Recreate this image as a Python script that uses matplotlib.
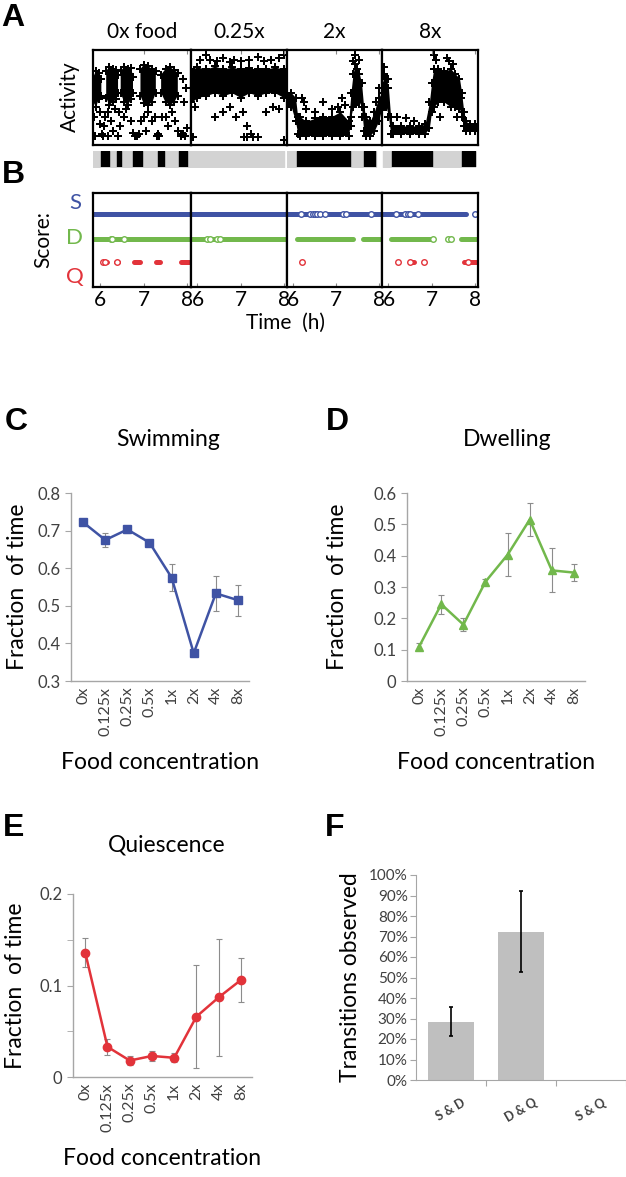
import numpy as np
import matplotlib
matplotlib.use('Agg')
import matplotlib.pyplot as plt

plt.rcParams['font.family'] = ['Lato', 'DejaVu Sans']

nan = np.nan

# ---------------- data ----------------
# A: activity traces, 6-8 h, one list set per food level (envelope of the dense cloud + loose points)
panel_names = ['0x food', '0.25x', '2x', '8x']

act_t = [
    [5.86, 5.92, 5.98, 6.04, 6.09, 6.15, 6.22, 6.30, 6.38, 6.42, 6.45, 6.48, 6.56, 6.64, 6.72, 6.76, 6.85,
     6.93, 7.00, 7.10, 7.20, 7.28, 7.34, 7.40, 7.50, 7.60, 7.70, 7.78],
    [5.86, 6.0, 6.2, 6.4, 6.6, 6.8, 7.0, 7.2, 7.4, 7.6, 7.8, 8.0, 8.08],
    [5.86, 5.95, 6.05, 6.10, 6.15, 6.30, 6.50, 6.70, 6.90, 7.10, 7.30, 7.35, 7.40, 7.45, 7.50, 7.55, 7.60,
     7.65, 7.70, 7.80, 7.90, 8.00, 8.08],
    [5.86, 5.90, 5.95, 6.00, 6.05, 6.10, 6.30, 6.50, 6.70, 6.85, 6.95, 7.00, 7.05, 7.15, 7.30, 7.45, 7.55,
     7.65, 7.70, 7.75, 7.80, 7.90, 8.00, 8.08],
]
act_hi = [
    [0.72, 0.78, 0.76, 0.70, nan, 0.78, 0.82, 0.80, 0.79, 0.74, nan, 0.78, 0.82, 0.80, 0.81, 0.72, nan,
     0.80, 0.84, 0.83, 0.80, 0.78, nan, 0.74, 0.80, 0.82, 0.79, 0.76],
    [0.80, 0.82, 0.80, 0.83, 0.80, 0.82, 0.80, 0.81, 0.80, 0.80, 0.82, 0.80, 0.78],
    [0.55, 0.55, 0.50, 0.30, 0.30, 0.25, 0.28, 0.30, 0.30, 0.35, 0.25, 0.55, 0.75, 0.85, 0.80, 0.75, 0.65,
     0.40, 0.30, 0.25, 0.35, 0.50, 0.55],
    [0.65, 0.75, 0.70, 0.60, 0.30, 0.20, 0.20, 0.20, 0.20, 0.22, 0.45, 0.65, 0.80, 0.80, 0.78, 0.80, 0.75,
     0.70, 0.55, 0.35, 0.25, 0.22, 0.22, 0.22],
]
act_lo = [
    [0.45, 0.40, 0.48, 0.52, nan, 0.50, 0.42, 0.45, 0.48, 0.55, nan, 0.55, 0.45, 0.42, 0.48, 0.55, nan,
     0.52, 0.44, 0.42, 0.45, 0.55, nan, 0.55, 0.45, 0.42, 0.45, 0.52],
    [0.45, 0.50, 0.52, 0.55, 0.52, 0.55, 0.50, 0.55, 0.52, 0.55, 0.55, 0.50, 0.52],
    [0.42, 0.40, 0.25, 0.12, 0.10, 0.10, 0.10, 0.10, 0.10, 0.10, 0.10, 0.30, 0.40, 0.45, 0.45, 0.45, 0.40,
     0.15, 0.10, 0.10, 0.15, 0.25, 0.40],
    [0.45, 0.40, 0.40, 0.30, 0.12, 0.12, 0.12, 0.12, 0.12, 0.12, 0.18, 0.35, 0.40, 0.45, 0.45, 0.40, 0.40,
     0.38, 0.30, 0.20, 0.15, 0.15, 0.15, 0.15],
]
pts_t = [
    [5.88, 5.90, 6.00, 6.02, 6.05, 6.08, 6.10, 6.12, 6.18, 6.20, 6.25, 6.30, 6.35, 6.42, 6.44, 6.47, 6.55,
     6.60, 6.72, 6.75, 6.80, 6.85, 6.90, 6.95, 7.00, 7.05, 7.10, 7.20, 7.25, 7.30, 7.33, 7.36, 7.42, 7.50,
     7.55, 7.65, 7.72, 7.78, 7.85, 7.90, 7.95, 7.98, 7.92, 7.96, 7.90],
    [5.90, 5.95, 6.05, 6.20, 6.30, 6.45, 6.60, 6.75, 6.85, 7.00, 7.20, 7.40, 7.55, 7.70, 7.90, 8.00, 6.40,
     6.60, 6.75, 6.90, 7.05, 7.15, 7.08, 7.15, 7.25, 7.30, 7.40, 7.60, 7.75, 7.90, 8.02],
    [6.20, 6.25, 6.30, 6.50, 6.70, 6.90, 7.05, 7.15, 7.20, 7.45, 7.40, 7.55, 7.35, 7.62, 8.00, 7.95],
    [5.90, 6.00, 6.20, 6.40, 6.60, 7.05, 7.10, 7.35, 7.40, 7.50, 7.20, 7.60, 7.68],
]
pts_a = [
    [0.30, 0.10, 0.35, 0.22, 0.12, 0.10, 0.20, 0.30, 0.35, 0.10, 0.25, 0.15, 0.38, 0.10, 0.35, 0.20, 0.30,
     0.38, 0.25, 0.13, 0.10, 0.10, 0.12, 0.25, 0.30, 0.15, 0.35, 0.25, 0.30, 0.10, 0.12, 0.10, 0.30, 0.30,
     0.20, 0.35, 0.25, 0.15, 0.10, 0.12, 0.10, 0.18, 0.45, 0.60, 0.70],
    [0.08, 0.40, 0.90, 0.95, 0.90, 0.88, 0.92, 0.87, 0.90, 0.88, 0.90, 0.93, 0.88, 0.90, 0.92, 0.95, 0.30,
     0.35, 0.40, 0.30, 0.35, 0.20, 0.08, 0.08, 0.12, 0.08, 0.08, 0.35, 0.40, 0.38, 0.05],
    [0.50, 0.45, 0.38, 0.35, 0.45, 0.38, 0.40, 0.50, 0.42, 0.95, 0.88, 0.90, 0.20, 0.30, 0.60, 0.45],
    [0.82, 0.70, 0.30, 0.28, 0.25, 0.95, 0.90, 0.92, 0.88, 0.85, 0.30, 0.30, 0.50],
]
# grey/black bar under A: recording span and quiescent bouts
bar_span = [(5.85, 8.08), (5.87, 8.00), (5.86, 7.95), (5.87, 8.02)]
quiet_bouts = [
    [(6.03, 6.22), (6.39, 6.49), (6.76, 6.96), (7.33, 7.47), (7.80, 7.99)],
    [],
    [(6.08, 7.33), (7.65, 7.92)],
    [(6.08, 7.01), (7.70, 8.01)],
]

# B: state scoring (segments and isolated calls)
s_seg = [[(5.85, 8.08)], [(5.85, 8.08)], [(5.85, 8.08)], [(5.85, 7.81)]]
s_open = [[], [], [6.19, 6.39, 6.45, 6.50, 6.56, 6.62, 6.74, 7.17, 7.23, 7.82],
          [6.18, 6.38, 6.45, 6.49, 6.69, 8.00]]
d_seg = [[(5.85, 8.08)], [(5.85, 8.08)], [(6.08, 7.40), (7.64, 8.08)], [(6.07, 7.03), (7.69, 8.08)]]
d_open = [[6.25, 6.29, 6.55], [6.23, 6.28, 6.45, 6.52], [], [7.03, 7.38, 7.46]]
q_seg = [[(6.08, 6.17), (6.37, 6.42), (6.78, 6.91), (7.29, 7.38), (7.86, 8.04)], [], [],
         [(6.52, 6.60), (7.76, 8.08)]]
q_open = [[6.07, 6.13, 6.39], [], [6.20], [6.22, 6.50, 6.82, 7.85]]

# C-E: fraction of time vs food
food = ['0x', '0.125x', '0.25x', '0.5x', '1x', '2x', '4x', '8x']
swim = [0.722, 0.675, 0.703, 0.668, 0.575, 0.374, 0.533, 0.515]
swim_err = [0.006, 0.018, 0.010, 0.008, 0.035, 0.006, 0.046, 0.041]
dwell = [0.110, 0.245, 0.180, 0.317, 0.403, 0.515, 0.353, 0.346]
dwell_err = [0.010, 0.030, 0.020, 0.010, 0.068, 0.053, 0.070, 0.028]
quies = [0.136, 0.033, 0.018, 0.023, 0.021, 0.066, 0.087, 0.106]
quies_err = [0.016, 0.009, 0.005, 0.005, 0.005, 0.056, 0.064, 0.024]

# F: transitions
trans = ['S & D', 'D & Q', 'S & Q']
trans_val = [0.284, 0.723, 0.0]
trans_err = [0.070, 0.197, 0.0]

# ---------------- figure ----------------
W, H = 626, 1177
fig = plt.figure(figsize=(W / 100, H / 100), dpi=100)


def box(x0, y0, x1, y1):
    return fig.add_axes([x0 / W, 1 - y1 / H, (x1 - x0) / W, (y1 - y0) / H])


BLUE = '#3f53a4'
GREEN = '#72b84c'
RED = '#e2333a'
XL = (5.85, 8.08)
edges = [93, 191, 287, 382, 478]

for i in range(4):
    x0, x1 = edges[i], edges[i + 1]
    # activity
    ax = box(x0, 50, x1, 145)
    t = np.array(act_t[i])
    lo = np.array(act_lo[i])
    hi = np.array(act_hi[i])
    ok = ~np.isnan(lo)
    ax.fill_between(t, np.where(ok, lo, 0), np.where(ok, hi, 0), where=ok, color='black', lw=0)
    ax.scatter(t[ok], lo[ok], marker='P', s=34, color='black', lw=0)
    ax.scatter(t[ok], hi[ok], marker='P', s=34, color='black', lw=0)
    ax.scatter(pts_t[i], pts_a[i], marker='P', s=34, color='black', lw=0)
    ax.set_xlim(*XL)
    ax.set_ylim(0, 1)
    ax.set_xticks([7, 8])
    ax.tick_params(axis='x', top=True, bottom=False, labelbottom=False, direction='in', length=3,
                   color='#888888')
    ax.set_yticks([])
    for sp in ax.spines.values():
        sp.set_linewidth(1.6)
    ax.set_title(panel_names[i], fontsize=15, pad=9)

    # state bar
    bx = box(x0, 151, x1, 167)
    s0, s1 = bar_span[i]
    bx.broken_barh([(s0, s1 - s0)], (0, 1), color='#d3d3d3')
    bx.broken_barh([(a, b - a) for a, b in quiet_bouts[i]], (0, 1), color='black')
    bx.set_xlim(*XL)
    bx.set_ylim(0, 1)
    bx.axis('off')

    # scoring
    bx2 = box(x0, 193, x1, 287)
    for segs, opens, yv, c in [(s_seg[i], s_open[i], 3.1, BLUE), (d_seg[i], d_open[i], 2.05, GREEN),
                               (q_seg[i], q_open[i], 1.05, RED)]:
        for a, b in segs:
            bx2.plot([a, b], [yv, yv], color=c, lw=3.6, solid_capstyle='round')
        bx2.plot(opens, [yv] * len(opens), 'o', ms=4, mfc='white', mec=c, mew=1.0)
    bx2.set_xlim(*XL)
    bx2.set_ylim(0, 4)
    bx2.set_yticks([])
    bx2.set_xticks([6, 7, 8])
    bx2.tick_params(axis='x', direction='in', length=3, labelsize=15, pad=2, color='#888888')
    for sp in bx2.spines.values():
        sp.set_linewidth(1.6)

fig.text(70 / W, 1 - 97 / H, 'Activity', rotation=90, fontsize=15, ha='center', va='center')
fig.text(43 / W, 1 - 240 / H, 'Score:', rotation=90, fontsize=15, ha='center', va='center')
fig.text(75 / W, 1 - 203 / H, 'S', color=BLUE, fontsize=16, ha='center', va='center')
fig.text(75 / W, 1 - 238 / H, 'D', color=GREEN, fontsize=16, ha='center', va='center')
fig.text(75 / W, 1 - 277 / H, 'Q', color=RED, fontsize=16, ha='center', va='center')
fig.text(285 / W, 1 - 323 / H, 'Time  (h)', fontsize=15, ha='center', va='center')

# panel letters
for lab, x, y in [('A', 13, 18), ('B', 13, 175), ('C', 16, 422), ('D', 337, 422), ('E', 14, 828),
                  ('F', 335, 828)]:
    fig.text(x / W, 1 - y / H, lab, fontsize=23, fontweight='bold', family='Liberation Sans',
             ha='center', va='center')

GRAYAX = '#a6a6a6'
TICKC = '#404040'


def line_panel(ax, vals, errs, color, marker, ylim, yticks, ylabels, title, tx, ty, ylab_x, minor=None):
    x = np.arange(len(food))
    ax.errorbar(x, vals, yerr=errs, fmt='none', ecolor='#8c8c8c', elinewidth=0.8, capsize=2, capthick=0.8)
    ax.plot(x, vals, color=color, lw=1.8, marker=marker, ms=6, mec=color, mfc=color)
    ax.set_xlim(-0.55, 7.5)
    ax.set_ylim(*ylim)
    ax.set_yticks(yticks)
    ax.set_yticklabels(ylabels)
    if minor is not None:
        ax.set_yticks(minor, minor=True)
        ax.tick_params(axis='y', which='minor', length=4, color=GRAYAX)
    ax.set_xticks(x)
    ax.set_xticklabels(food, rotation=90)
    ax.tick_params(axis='x', length=0, labelsize=11.5, labelcolor=TICKC, pad=4)
    ax.tick_params(axis='y', length=4, color=GRAYAX, labelsize=12, labelcolor=TICKC)
    for s in ['top', 'right']:
        ax.spines[s].set_visible(False)
    for s in ['left', 'bottom']:
        ax.spines[s].set_color(GRAYAX)
        ax.spines[s].set_linewidth(1.0)
    ax.set_xlabel('Food concentration', fontsize=16.5, labelpad=12)
    fig.text(tx / W, 1 - ty / H, title, fontsize=16.5, ha='center', va='center')
    fig.text(ylab_x / W, 1 - ((ax.get_position().y0 + ax.get_position().y1) / 2 * -H + H) / H,
             'Fraction  of time', rotation=90, fontsize=16.5, ha='center', va='center')


axC = box(71, 493, 249, 681)
line_panel(axC, swim, swim_err, BLUE, 's', (0.3, 0.8), [0.3, 0.4, 0.5, 0.6, 0.7, 0.8],
           ['0.3', '0.4', '0.5', '0.6', '0.7', '0.8'], 'Swimming', 168, 440, 18)

axD = box(407, 493, 585, 681)
line_panel(axD, dwell, dwell_err, GREEN, '^', (0, 0.6), [0, 0.1, 0.2, 0.3, 0.4, 0.5, 0.6],
           ['0', '0.1', '0.2', '0.3', '0.4', '0.5', '0.6'], 'Dwelling', 507, 440, 338)

axE = box(73, 894, 252, 1077)
line_panel(axE, quies, quies_err, RED, 'o', (0, 0.2), [0, 0.1, 0.2], ['0', '0.1', '0.2'], 'Quiescence',
           167, 845, 16, minor=[0.05, 0.15])

# F
axF = box(416, 875, 626, 1080)
xf = np.arange(len(trans))
axF.bar(xf, trans_val, width=0.66, color='#bfbfbf')
axF.errorbar(xf[:2], trans_val[:2], yerr=trans_err[:2], fmt='none', ecolor='black', elinewidth=1.2,
             capsize=1.5, capthick=1.2)
axF.set_xlim(-0.5, 2.5)
axF.set_ylim(0, 1.0)
axF.set_yticks(np.arange(0, 1.01, 0.1))
axF.set_yticklabels(['%d%%' % v for v in range(0, 101, 10)])
axF.set_xticks([0.5, 1.5, 2.5])
axF.set_xticklabels([])
axF.tick_params(axis='x', length=4, color=GRAYAX)
axF.tick_params(axis='y', length=4, color=GRAYAX, labelsize=11, labelcolor=TICKC, pad=2)
for s in ['top', 'right']:
    axF.spines[s].set_visible(False)
for s in ['left', 'bottom']:
    axF.spines[s].set_color(GRAYAX)
for i, lab in enumerate(trans):
    axF.text(i, -0.08, lab, rotation=30, ha='center', va='top', fontsize=9, fontweight='bold',
             color=TICKC, transform=axF.get_xaxis_transform())
fig.text(350 / W, 1 - 977 / H, 'Transitions observed', rotation=90, fontsize=16.5, ha='center',
         va='center')

fig.savefig('out.png', dpi=100)
